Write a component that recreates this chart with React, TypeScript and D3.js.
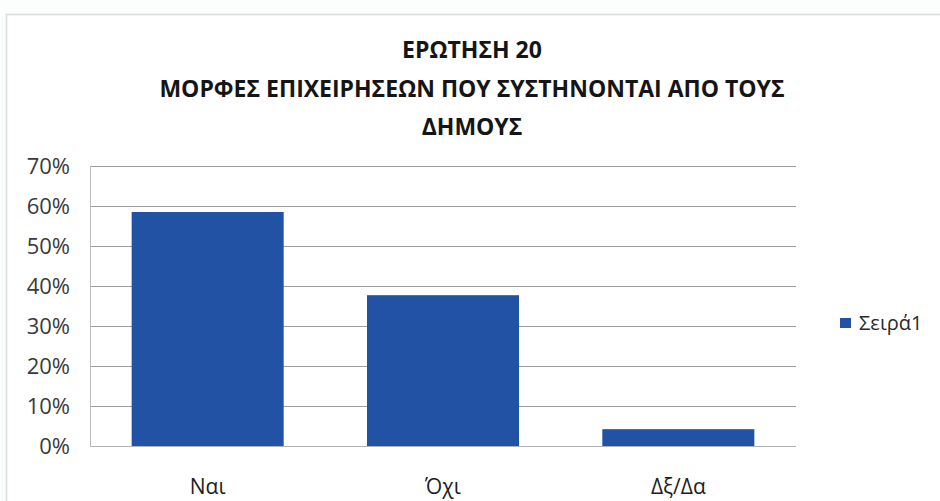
import * as d3 from "d3";
import { useEffect, useRef } from "react";

const categories = ["Ναι", "Όχι", "Δξ/Δα"];
const values = [0.585, 0.377, 0.042];
const yTicks = [0, 0.1, 0.2, 0.3, 0.4, 0.5, 0.6, 0.7];
const titleLines = [
  "ΕΡΩΤΗΣΗ 20",
  "ΜΟΡΦΕΣ ΕΠΙΧΕΙΡΗΣΕΩΝ ΠΟΥ ΣΥΣΤΗΝΟΝΤΑΙ ΑΠΟ ΤΟΥΣ",
  "ΔΗΜΟΥΣ",
];
const seriesName = "Σειρά1";

const W = 940;
const H = 501;
const FONT = "'Open Sans', 'Noto Sans', sans-serif";

export default function App() {
  const ref = useRef<SVGSVGElement | null>(null);

  useEffect(() => {
    document.body.style.margin = "0";
    const svg = d3.select(ref.current);
    svg.selectAll("*").remove();

    const margin = { top: 166, right: 144, bottom: 55, left: 90 };
    const x0 = margin.left;
    const x1 = W - margin.right;
    const yTop = margin.top;
    const yBottom = H - margin.bottom;

    svg.append("rect").attr("width", W).attr("height", H).attr("fill", "#fcfdfd");

    // outer chart frame
    svg
      .append("rect")
      .attr("x", 6.5)
      .attr("y", 14.5)
      .attr("width", W)
      .attr("height", H)
      .attr("fill", "#ffffff")
      .attr("stroke", "#d8dcdc")
      .attr("stroke-width", 1.5);

    const xScale = d3
      .scaleBand<string>()
      .domain(categories)
      .range([x0, x1])
      .paddingInner(0.354)
      .paddingOuter(0.177);

    const yScale = d3.scaleLinear().domain([0, 0.7]).range([yBottom, yTop]);

    // title
    svg
      .append("g")
      .selectAll("text")
      .data(titleLines)
      .enter()
      .append("text")
      .attr("x", 472)
      .attr("y", (_, i) => 58 + i * 38.5)
      .attr("text-anchor", "middle")
      .attr("font-family", FONT)
      .attr("font-weight", "bold")
      .attr("font-size", 23)
      .attr("fill", "#151515")
      .text((d) => d);

    // gridlines
    svg
      .append("g")
      .selectAll("line")
      .data(yTicks)
      .enter()
      .append("line")
      .attr("x1", x0)
      .attr("x2", x1)
      .attr("y1", (d) => Math.round(yScale(d)) + 0.5)
      .attr("y2", (d) => Math.round(yScale(d)) + 0.5)
      .attr("stroke", (d) => (d === 0 ? "#b0b4b4" : "#9a9e9e"))
      .attr("stroke-width", 1);

    // left axis line
    svg
      .append("line")
      .attr("x1", x0 + 0.5)
      .attr("x2", x0 + 0.5)
      .attr("y1", yTop)
      .attr("y2", yBottom)
      .attr("stroke", "#b8bcbc");

    // y tick labels
    svg
      .append("g")
      .selectAll("text")
      .data(yTicks)
      .enter()
      .append("text")
      .attr("x", 70)
      .attr("y", (d) => yScale(d))
      .attr("dy", "0.36em")
      .attr("text-anchor", "end")
      .attr("font-family", FONT)
      .attr("font-size", 22)
      .attr("fill", "#3a3a3a")
      .text((d) => d3.format(".0%")(d));

    // bars
    svg
      .append("g")
      .selectAll("rect")
      .data(values)
      .enter()
      .append("rect")
      .attr("x", (_, i) => xScale(categories[i]) ?? 0)
      .attr("y", (d) => yScale(d))
      .attr("width", xScale.bandwidth())
      .attr("height", (d) => yBottom - yScale(d))
      .attr("fill", "#2152a3");

    // x labels
    svg
      .append("g")
      .selectAll("text")
      .data(categories)
      .enter()
      .append("text")
      .attr("x", (d) => (xScale(d) ?? 0) + xScale.bandwidth() / 2)
      .attr("y", 494)
      .attr("text-anchor", "middle")
      .attr("font-family", FONT)
      .attr("font-size", 21)
      .attr("fill", "#1e1e1e")
      .text((d) => d);

    // legend
    const legend = svg.append("g").attr("transform", "translate(840,318)");
    legend.append("rect").attr("width", 11).attr("height", 10).attr("fill", "#2152a3");
    legend
      .append("text")
      .attr("x", 19)
      .attr("y", 5)
      .attr("dy", "0.36em")
      .attr("font-family", FONT)
      .attr("font-size", 20)
      .attr("fill", "#2a2a2a")
      .text(seriesName);
  }, []);

  return (
    <div style={{ position: "absolute", left: 0, top: 0 }}>
      <svg ref={ref} width={W} height={H} />
    </div>
  );
}
